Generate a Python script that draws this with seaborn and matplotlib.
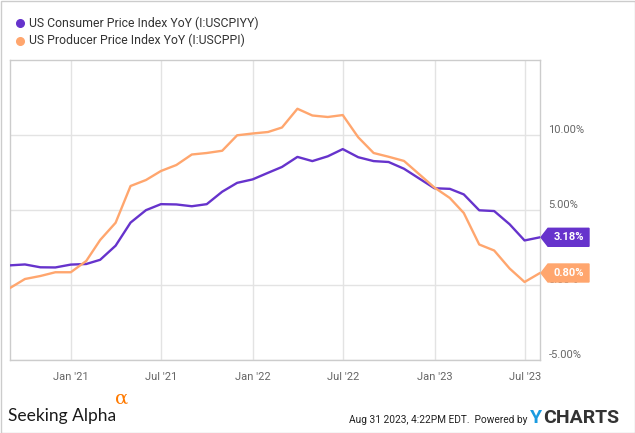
import numpy as np
import pandas as pd
import matplotlib
matplotlib.use("Agg")
import matplotlib.pyplot as plt
import matplotlib.dates as mdates
import matplotlib.transforms as mtransforms
from matplotlib.patches import Polygon, Rectangle
from matplotlib.lines import Line2D
from matplotlib.ticker import FixedLocator, FuncFormatter
import seaborn as sns

# ---------------- data ----------------
cpi_name = "US Consumer Price Index YoY (I:USCPIYY)"
ppi_name = "US Producer Price Index YoY (I:USCPPI)"
# monthly, Aug 2020 .. Jul 2023 (plotted at month end)
dates = pd.date_range("2020-09-01", "2023-08-01", freq="MS") - pd.Timedelta(days=1)
cpi = [1.31, 1.37, 1.18, 1.17, 1.36,
       1.40, 1.68, 2.62, 4.16, 4.99, 5.39, 5.37, 5.25, 5.39, 6.22, 6.81, 7.04,
       7.48, 7.87, 8.54, 8.26, 8.58, 9.06, 8.52, 8.26, 8.20, 7.75, 7.11, 6.45,
       6.41, 6.04, 4.98, 4.93, 4.05, 2.97, 3.18]
ppi = [-0.20, 0.40, 0.60, 0.85, 0.85,
       1.60, 3.00, 4.15, 6.60, 7.00, 7.60, 8.00, 8.70, 8.80, 8.95, 9.98, 10.10,
       10.20, 10.50, 11.75, 11.30, 11.20, 11.33, 9.85, 8.80, 8.55, 8.27, 7.40, 6.50,
       5.80, 4.80, 2.70, 2.30, 1.10, 0.20, 0.80]
yticks = [-5, 0, 5, 10]
tag_labels = ["3.18%", "0.80%"]

purple = "#6633cc"
orange = "#ffa66e"

df = pd.DataFrame({
    "date": list(dates) * 2,
    "value": cpi + ppi,
    "series": [cpi_name] * len(cpi) + [ppi_name] * len(ppi),
})

sns.set_theme(style="white")
plt.rcParams["font.family"] = ["Roboto", "DejaVu Sans"]

W, H = 635, 433
fig = plt.figure(figsize=(W / 100, H / 100), dpi=100)
fig.patch.set_facecolor("white")
ax = fig.add_axes([10 / W, 73 / H, 530 / W, 300 / H])

sns.lineplot(data=df, x="date", y="value", hue="series",
             palette=[purple, orange], linewidth=1.7, legend=False, ax=ax,
             zorder=3)

ax.set_xlim(dates[0], dates[-1])
ax.set_ylim(-5, 15)
ax.set_xlabel("")
ax.set_ylabel("")

ax.xaxis.set_major_locator(mdates.MonthLocator(bymonth=[1, 7]))
ax.xaxis.set_major_formatter(mdates.DateFormatter("%b '%y"))
ax.yaxis.set_major_locator(FixedLocator(yticks))
ax.yaxis.set_major_formatter(FuncFormatter(lambda v, p: f"{v:.2f}%"))
ax.yaxis.tick_right()
ax.grid(True, color="#e3e3e3", linewidth=1)
ax.set_axisbelow(True)
ax.tick_params(axis="both", length=0, labelsize=8, labelcolor="#666666")
ax.tick_params(axis="x", pad=9)
ax.tick_params(axis="y", pad=6)
for sp in ax.spines.values():
    sp.set_color("#cccccc")
    sp.set_linewidth(1)

off = mtransforms.ScaledTranslation(0, 6 / 100, fig.dpi_scale_trans)
for lbl in ax.get_yticklabels():
    lbl.set_transform(lbl.get_transform() + off)

# ---------------- value tags ----------------
fig.canvas.draw()
x_edge = ax.transAxes.transform((1, 0))[0]
last_x = mdates.date2num(dates[-1])
for val, lab, col in [(cpi[-1], tag_labels[0], purple), (ppi[-1], tag_labels[1], orange)]:
    _, yd = ax.transData.transform((last_x, val))
    x0 = x_edge + 1
    h = 9
    verts = [(x0, yd), (x0 + 7, yd + h), (x0 + 48, yd + h), (x0 + 48, yd - h), (x0 + 7, yd - h)]
    poly = Polygon(verts, closed=True, facecolor=col, edgecolor=col,
                   transform=mtransforms.IdentityTransform(), zorder=10)
    fig.add_artist(poly)
    fig.text((x0 + 28) / W, yd / H, lab, color="white", fontsize=8,
             fontweight="bold", ha="center", va="center", zorder=11)

# ---------------- legend ----------------
for i, (name, col) in enumerate([(cpi_name, purple), (ppi_name, orange)]):
    yy = 1 - (23 + 17.5 * i) / H
    fig.add_artist(Line2D([20 / W], [yy], marker="o", markersize=5.5, color=col,
                          markeredgecolor=col, transform=fig.transFigure))
    fig.text(29 / W, yy, name, fontsize=8.8, color="#333333", va="center", ha="left")

# ---------------- footer ----------------
fig.text(8 / W, 1 - 421 / H, "Seeking Alpha", fontsize=12.5, color="#1a1a1a",
         va="baseline", ha="left", family=["Lato", "DejaVu Sans"])
fig.text(115 / W, 1 - 399 / H, "\u03b1", fontsize=14, color="#ff7a00",
         va="center", ha="left", family=["DejaVu Serif", "DejaVu Sans"])
fig.text(527 / W, 1 - 420 / H, "Aug 31 2023, 4:22PM EDT.  Powered by", fontsize=7.3,
         color="#222222", va="center", ha="right",
         family=["Liberation Sans Narrow", "Roboto", "DejaVu Sans"])
ty = fig.text(530 / W, 1 - 418 / H, "Y", fontsize=14, fontweight="bold",
              color="#1a9be0", va="center", ha="left")
fig.canvas.draw()
bb = ty.get_window_extent()
fig.text((bb.x1 + 1) / W, 1 - 418 / H, "CHARTS", fontsize=14, fontweight="bold",
         color="#333333", va="center", ha="left")

fig.add_artist(Rectangle((0.5 / W, 0.5 / H), 1 - 1 / W, 1 - 1 / H, fill=False,
                         edgecolor="#cccccc", linewidth=1, transform=fig.transFigure))

fig.savefig("out.png", dpi=100)
